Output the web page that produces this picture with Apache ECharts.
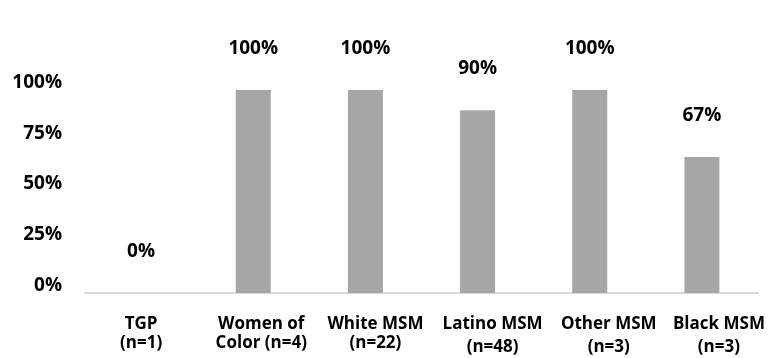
<!DOCTYPE html>
<html>
<head>
<meta charset="utf-8">
<script src="https://cdn.jsdelivr.net/npm/echarts@6/dist/echarts.min.js"></script>
<style>html,body{margin:0;padding:0;background:#fff}#c{width:769px;height:358px}</style>
</head>
<body>
<div id="c"></div>
<script>
const categories = ["TGP\n(n=1)", "Women of\nColor (n=4)", "White MSM\n(n=22)", "Latino MSM\n(n=48)", "Other MSM\n(n=3)", "Black MSM\n(n=3)"];
const values = [0, 100, 100, 90, 100, 67];
const yTicks = [0, 25, 50, 75, 100];

const FONT = '"Open Sans"';
const FS = 17;
const FSN = 19;
const labelShift = [0, 16, 20, 30, 38, 34];
const rich = {};
labelShift.forEach((s, i) => {
  rich['a' + i] = {fontFamily: FONT, fontWeight: 'bold', fontSize: FS, color: '#000', lineHeight: 19, padding: [0, 0, 0, s]};
  rich['b' + i] = {fontFamily: FONT, fontWeight: 'bold', fontSize: FS, color: '#000', lineHeight: i >= 3 ? 23 : 19, padding: [i >= 3 ? 4 : 0, 0, 0, s]};
});

const chart = echarts.init(document.getElementById('c'));
chart.setOption({
  backgroundColor: '#fff',
  animation: false,
  grid: {left: 85, right: 11, top: 90, bottom: 65, containLabel: false},
  xAxis: {
    type: 'category',
    data: categories,
    axisLine: {lineStyle: {color: '#d9d9d9', width: 2}},
    axisTick: {show: false},
    axisLabel: {
      interval: 0,
      margin: 22,
      formatter: function (v, i) {
        const parts = v.split('\n');
        return '{a' + i + '|' + parts[0] + '}\n{b' + i + '|' + parts[1] + '}';
      },
      rich: rich
    }
  },
  yAxis: {
    type: 'value',
    min: 0,
    max: 100,
    interval: 25,
    splitLine: {show: false},
    axisLine: {show: false},
    axisTick: {show: false},
    axisLabel: {
      margin: 23,
      fontFamily: FONT,
      fontWeight: 'bold',
      fontSize: FSN,
      color: '#000',
      verticalAlign: 'bottom',
      lineHeight: 15,
      formatter: function (v) { return yTicks.indexOf(v) >= 0 ? v + '%' : ''; }
    }
  },
  series: [{
    type: 'bar',
    data: values,
    barWidth: 35,
    itemStyle: {color: '#a6a6a6'},
    label: {
      show: true,
      position: 'top',
      distance: 32,
      fontFamily: FONT,
      fontWeight: 'bold',
      fontSize: FSN,
      color: '#000',
      formatter: function (p) { return p.value + '%'; }
    }
  }]
});
</script>
</body>
</html>
